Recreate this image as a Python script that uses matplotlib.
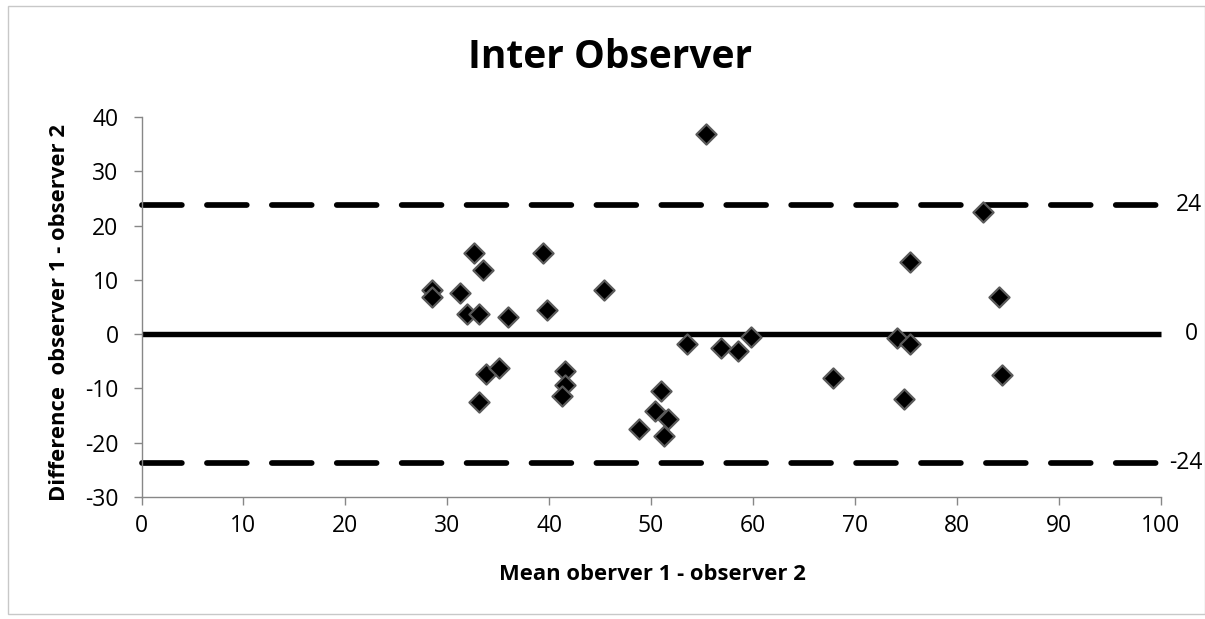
import matplotlib
matplotlib.use("Agg")
import matplotlib.pyplot as plt
from matplotlib.patches import Rectangle

mean_vals = [28.5, 28.5, 32.6, 33.5, 31.3, 31.9, 33.1, 36.0, 39.4, 39.8, 45.4, 53.5,
             33.8, 35.1, 33.1, 41.6, 41.6, 41.3, 51.0, 50.4, 51.7, 48.8, 51.3, 55.4,
             56.9, 58.5, 59.8, 67.9, 74.1, 75.4, 75.4, 74.8, 82.6, 84.2, 84.4]
diff_vals = [8.2, 6.9, 15.0, 11.8, 7.5, 3.8, 3.8, 3.2, 15.0, 4.4, 8.1, -1.9,
             -7.4, -6.2, -12.5, -6.8, -9.3, -11.4, -10.5, -14.2, -15.6, -17.4, -18.8, 36.8,
             -2.5, -3.1, -0.6, -8.1, -0.7, -1.9, 13.2, -11.9, 22.5, 6.9, -7.5]
mean_diff = 0
upper_loa = 23.8
lower_loa = -23.8
loa_labels = ["24", "0", "-24"]
x_ticks = list(range(0, 101, 10))
y_ticks = list(range(-30, 41, 10))

FONT = "Open Sans"
plt.rcParams['font.family'] = [FONT, 'DejaVu Sans']
plt.rcParams['axes.unicode_minus'] = False

W, H = 1205, 619
fig = plt.figure(figsize=(W / 100, H / 100), dpi=100)
fig.patches.append(Rectangle((8 / W, 1 - 614 / H), (W - 8) / W, (614 - 6) / H,
                             transform=fig.transFigure, fill=False,
                             edgecolor='#c8c8c8', lw=1.0))

ax = fig.add_axes([141.5 / W, 1 - 497 / H, (1160.5 - 141.5) / W, (497 - 117) / H])
ax.set_xlim(0, 100)
ax.set_ylim(-30, 40)

ax.plot([0, 100], [mean_diff, mean_diff], color='black', lw=3.9, solid_capstyle='butt',
        zorder=2, clip_on=False)
for v in (upper_loa, lower_loa):
    ax.plot([0, 100], [v, v], color='black', lw=4.1, dash_capstyle='round',
            dashes=(7.0, 4.4), zorder=2, clip_on=False)

ax.scatter(mean_vals, diff_vals, marker='D', s=105, facecolor='black',
           edgecolor='#5a5a5a', linewidths=1.6, zorder=3, clip_on=False)

for v, lab, xo in zip((upper_loa, mean_diff, lower_loa), loa_labels, (102.8, 103.0, 102.5)):
    ax.text(xo, v, lab, ha='center', va='center', fontsize=16.5, color='black')

for s in ('top', 'right'):
    ax.spines[s].set_visible(False)
for s in ('left', 'bottom'):
    ax.spines[s].set_color('#878787')
    ax.spines[s].set_linewidth(1.0)

ax.set_xticks(x_ticks)
ax.set_yticks(y_ticks)
ax.tick_params(axis='both', colors='#878787', length=5.5, width=1.0, labelsize=16.5,
               labelcolor='black')
ax.tick_params(axis='x', pad=7)
ax.tick_params(axis='y', pad=11)

fig.text(610 / W, 1 - 57 / H, "Inter Observer", ha='center', va='center',
         fontsize=28, fontweight='bold')
fig.text(652 / W, 1 - 574 / H, "Mean oberver 1 - observer 2", ha='center', va='center',
         fontsize=15.8, fontweight='bold')
fig.text(60 / W, 1 - 312 / H, "Difference  observer 1 - observer 2", ha='center', va='center',
         rotation=90, fontsize=15.8, fontweight='bold')

fig.savefig("out.png", dpi=100, facecolor='white')
